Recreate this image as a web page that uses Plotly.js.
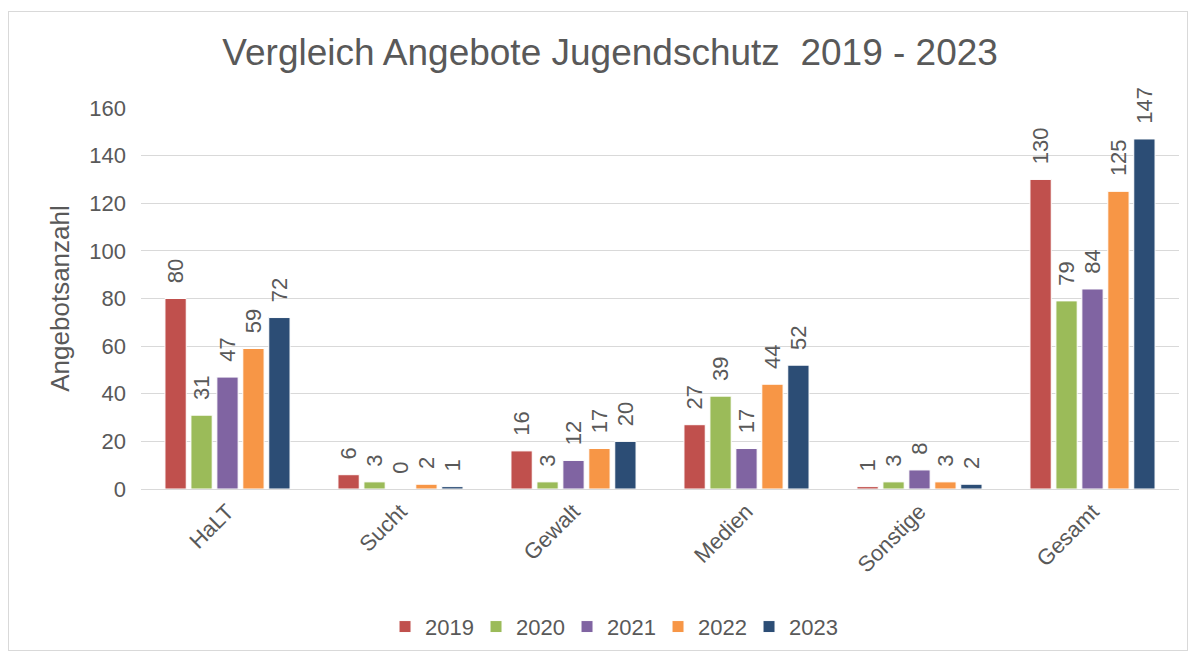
<!DOCTYPE html>
<html><head><meta charset="utf-8">
<script src="https://cdn.plot.ly/plotly-3.0.1.min.js"></script>
<style>
html,body{margin:0;padding:0;background:#fff;}
#wrap{position:relative;width:1194px;height:657px;}
#chart{width:1194px;height:657px;}
#frame{position:absolute;left:8px;top:11px;width:1180px;height:640px;border:1px solid #d9d9d9;pointer-events:none;box-sizing:border-box;}
</style></head>
<body>
<div id="wrap"><div id="chart"></div><div id="frame"></div></div>
<script>
const categories = ["HaLT", "Sucht", "Gewalt", "Medien", "Sonstige", "Gesamt"];
const years = ["2019", "2020", "2021", "2022", "2023"];
const v2019 = [80, 6, 16, 27, 1, 130];
const v2020 = [31, 3, 3, 39, 3, 79];
const v2021 = [47, 0, 12, 17, 8, 84];
const v2022 = [59, 2, 17, 44, 3, 125];
const v2023 = [72, 1, 20, 52, 2, 147];
const colors = ["#C0504D", "#9BBB59", "#8064A2", "#F79646", "#2C4D75"];
const series = [v2019, v2020, v2021, v2022, v2023];

const txt = "#595959";
const F = "Liberation Sans, Arial, sans-serif";

const traces = series.map((vals, i) => ({
  type: "bar",
  name: years[i],
  x: categories,
  y: vals,
  marker: {color: colors[i], line: {color: "#ffffff", width: 1}},
  text: vals.map(String),
  texttemplate: "\u00A0\u00A0%{text}",
  textposition: "outside",
  textangle: -90,
  constraintext: "none",
  textfont: {family: F, size: 22, color: txt},
  cliponaxis: false,
  hoverinfo: "x+y+name"
}));

const layout = {
  width: 1194, height: 657,
  margin: {l: 141, r: 15, t: 108, b: 168},
  paper_bgcolor: "#ffffff",
  plot_bgcolor: "#ffffff",
  font: {family: F, color: txt},
  title: {
    text: "Vergleich Angebote Jugendschutz&nbsp;&nbsp;2019 - 2023",
    font: {family: F, size: 37, color: txt},
    xref: "container", x: 0.511, xanchor: "center",
    yref: "container", y: 0.921, yanchor: "middle"
  },
  barmode: "group",
  bargap: 0.25,
  bargroupgap: 0.18,
  xaxis: {
    type: "category",
    tickangle: -45,
    tickfont: {family: F, size: 22, color: txt},
    showgrid: false,
    showline: true, linecolor: "#d9d9d9", linewidth: 1,
    ticks: "",
    automargin: false
  },
  yaxis: {
    range: [0, 160],
    dtick: 20,
    tickfont: {family: F, size: 22, color: txt},
    gridcolor: "#d9d9d9", gridwidth: 1,
    zeroline: false,
    showline: false,
    ticks: "",
    ticklabelstandoff: 14,
    automargin: false,
    title: {text: "Angebotsanzahl", font: {family: F, size: 26, color: txt}, standoff: 12}
  },
  showlegend: true,
  legend: {
    orientation: "h",
    xref: "container", x: 0.513, xanchor: "center",
    yref: "container", y: 0.046, yanchor: "middle",
    font: {family: F, size: 22, color: txt},
    entrywidth: 46, entrywidthmode: "pixels",
    itemclick: false,
    traceorder: "normal"
  }
};

Plotly.newPlot("chart", traces, layout, {displayModeBar: false});
</script>
</body></html>
